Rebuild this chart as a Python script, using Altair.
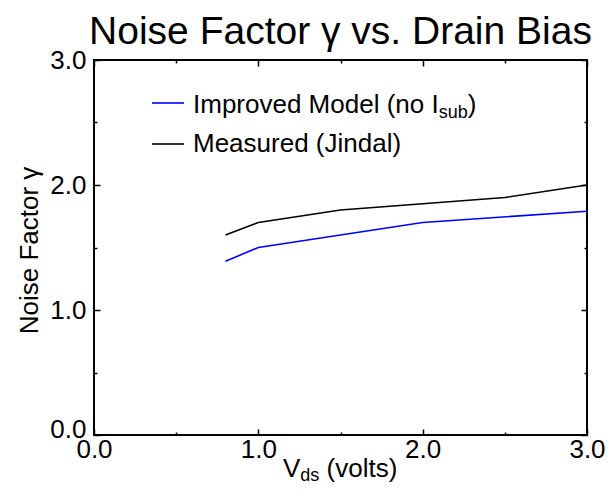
import altair as alt
import pandas as pd

# ---- data ----
series_names = ["Improved Model (no I_sub)", "Measured (Jindal)"]
series_colors = ["#0000ff", "#000000"]
vds_model = [0.8, 1.0, 2.0, 3.0]
gamma_model = [1.39, 1.50, 1.70, 1.79]
vds_meas = [0.8, 1.0, 1.5, 2.0, 2.5, 3.0]
gamma_meas = [1.60, 1.70, 1.80, 1.85, 1.90, 2.00]

x_label_values = [0.0, 1.0, 2.0, 3.0]
y_label_values = [0.0, 1.0, 2.0, 3.0]
tick_values = [0.0, 0.5, 1.0, 1.5, 2.0, 2.5, 3.0]

title_text = "Noise Factor \u03b3 vs. Drain Bias"
y_title_text = "Noise Factor \u03b3"
x_title_main = "V"
x_title_sub = "ds"
x_title_rest = "(volts)"
leg1_main = "Improved Model (no I"
leg1_sub = "sub"
leg1_end = ")"
leg2_text = "Measured (Jindal)"

df = pd.DataFrame(
    {
        "vds": vds_model + vds_meas,
        "gamma": gamma_model + gamma_meas,
        "series": [series_names[0]] * len(vds_model) + [series_names[1]] * len(vds_meas),
    }
)

FONT = "Liberation Sans"
W, H = 493, 375
FS = 26
SUB = 18

xs = alt.Scale(domain=[0, 3], nice=False, zero=False)
ys = alt.Scale(domain=[0, 3], nice=False, zero=False)

major_test = "abs(datum.value - round(datum.value)) < 0.01"
tick_size = {"condition": {"test": major_test, "value": 6}, "value": 3}


def tick_axis(orient, offset):
    return alt.Axis(
        orient=orient,
        offset=offset,
        values=tick_values,
        labels=False,
        domain=False,
        grid=False,
        title=None,
        ticks=True,
        tickSize=tick_size,
        tickColor="black",
        tickWidth=1.5,
    )


lines = alt.Chart(df).mark_line(strokeWidth=1.6, clip=True).encode(
    x=alt.X(
        "vds:Q",
        scale=xs,
        axis=alt.Axis(
            values=x_label_values,
            format=".1f",
            title=None,
            domain=False,
            ticks=False,
            grid=False,
            labelFont=FONT,
            labelFontSize=FS,
            labelColor="black",
            labelPadding=1,
            labelFlush=False,
        ),
    ),
    y=alt.Y(
        "gamma:Q",
        scale=ys,
        axis=alt.Axis(
            values=y_label_values,
            format=".1f",
            title=None,
            domain=False,
            ticks=False,
            grid=False,
            labelFont=FONT,
            labelFontSize=FS,
            labelColor="black",
            labelPadding=8,
            labelFlush=False,
            labelOffset={"condition": {"test": "datum.value === 0", "value": -6}, "value": 0},
        ),
    ),
    color=alt.Color(
        "series:N",
        scale=alt.Scale(domain=series_names, range=series_colors),
        legend=None,
    ),
)

ticks_a = alt.Chart(df).mark_point(opacity=0).encode(
    x=alt.X("vds:Q", scale=xs, axis=tick_axis("top", -H)),
    y=alt.Y("gamma:Q", scale=ys, axis=tick_axis("right", -W)),
)
ticks_b = alt.Chart(df).mark_point(opacity=0).encode(
    x=alt.X("vds:Q", scale=xs, axis=tick_axis("bottom", -H)),
    y=alt.Y("gamma:Q", scale=ys, axis=tick_axis("left", -W)),
)

one = pd.DataFrame({"k": [0]})


def txt(text, x, y, size=FS, align="left", baseline="alphabetic", angle=0, color="black"):
    kw = dict(text=text, font=FONT, fontSize=size, align=align, baseline=baseline, color=color)
    if angle:
        kw["angle"] = angle
    return alt.Chart(one).mark_text(**kw).encode(x=alt.value(x), y=alt.value(y))


def swatch(color, x1, x2, y):
    return alt.Chart(one).mark_rule(color=color, strokeWidth=1.6).encode(
        x=alt.value(x1), x2=alt.value(x2), y=alt.value(y)
    )


title = txt(title_text, W / 2, -16, size=39, align="center")
y_title = txt(y_title_text, -64, H / 2 + 3, align="center", baseline="middle", angle=270)

xt0 = 189
xt1 = xt0 + 0.667 * FS
xt2 = xt1 + 1.056 * SUB + 0.278 * FS
x_t1 = txt(x_title_main, xt0, H + 42)
x_t2 = txt(x_title_sub, xt1, H + 46, size=SUB)
x_t3 = txt(x_title_rest, xt2, H + 42)

lx = 99
l1_sub_x = lx + 9.448 * FS
l1_end_x = l1_sub_x + 1.612 * SUB
leg = [
    swatch(series_colors[0], 58, 90, 43),
    txt(leg1_main, lx, 53),
    txt(leg1_sub, l1_sub_x, 58, size=SUB),
    txt(leg1_end, l1_end_x, 53),
    swatch(series_colors[1], 58, 90, 84),
    txt(leg2_text, lx, 92),
]

chart = (
    alt.layer(lines, ticks_a, ticks_b, title, y_title, x_t1, x_t2, x_t3, *leg)
    .resolve_axis(x="independent", y="independent")
    .properties(
        width=W,
        height=H,
        autosize=alt.AutoSizeParams(type="none"),
        padding={"left": 86, "top": 52, "right": 20, "bottom": 50},
        background="white",
    )
    .configure_view(stroke="black", strokeWidth=2)
)

chart.save("out.html", embed_options={"renderer": "svg", "actions": False})
